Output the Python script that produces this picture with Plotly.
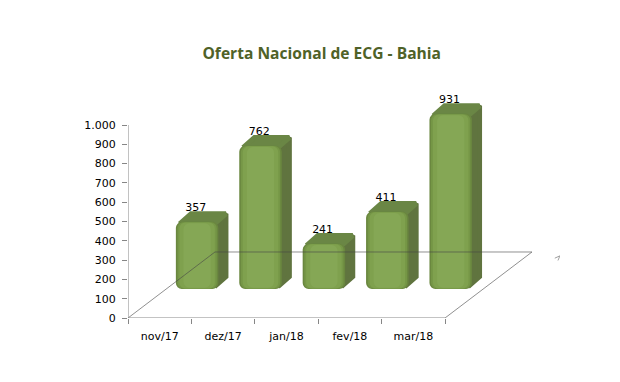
import plotly.graph_objects as go

categories = ["nov/17", "dez/17", "jan/18", "fev/18", "mar/18"]
values = [357, 762, 241, 411, 931]
y_ticks = [0, 100, 200, 300, 400, 500, 600, 700, 800, 900, 1000]
y_labels = ["0", "100", "200", "300", "400", "500", "600", "700", "800", "900", "1.000"]
title = "Oferta Nacional de ECG - Bahia"

# 3D projection of the pseudo-3D chart, in axis units
N = len(categories)
FLOOR_DX, FLOOR_DY = 1.372, 342      # depth vector of the floor
BAR_SHIFT = 0.59                     # bars stand mid-way along the floor depth
BAR_BASE = 150
H_SCALE = 0.975
BAR_W = 0.67
SIDE_DX, SIDE_DY = 0.18, 52          # depth vector of a bar

xs = [i + BAR_SHIFT for i in range(N)]
heights = [v * H_SCALE for v in values]
tops = [BAR_BASE + h for h in heights]
x0, x1 = -0.5, N - 0.5
fig = go.Figure()

SIDE = "#60743F"
TOP = "#6A8645"
for x, t in zip(xs, tops):
    r = x + BAR_W / 2 - 0.06
    l = x - BAR_W / 2 + 0.06
    # right side face
    fig.add_trace(go.Scatter(
        x=[r, r + SIDE_DX, r + SIDE_DX, r, r],
        y=[BAR_BASE + 12, BAR_BASE + 12 + SIDE_DY, t + SIDE_DY - 10, t - 10, BAR_BASE + 12],
        mode="lines", fill="toself", fillcolor=SIDE,
        line=dict(color=SIDE, width=5), hoverinfo="skip", showlegend=False))
    # top face
    fig.add_trace(go.Scatter(
        x=[l, l + SIDE_DX, r + SIDE_DX, r, l],
        y=[t - 10, t + SIDE_DY - 10, t + SIDE_DY - 10, t - 10, t - 10],
        mode="lines", fill="toself", fillcolor=TOP,
        line=dict(color=TOP, width=5), hoverinfo="skip", showlegend=False))

# front faces, on a second overlaying x axis so they sit over the side faces;
# layered bars imitate the bevel shading
for width, colour in [(BAR_W, "#6A873F"), (BAR_W - 0.05, "#769747"),
                      (BAR_W - 0.11, "#7FA14E"), (BAR_W - 0.24, "#85A755")]:
    inset = (BAR_W - width) * 30
    fig.add_trace(go.Bar(
        x=xs, y=[h - 2 * inset for h in heights], base=BAR_BASE + inset, width=width,
        xaxis="x2", yaxis="y2",
        marker=dict(color=colour, line=dict(width=0)), hoverinfo="skip", showlegend=False))

# floor and axes, drawn over the bars
FLOOR = "rgba(70,70,70,0.6)"
fig.add_trace(go.Scatter(
    x=[x0, x0 + FLOOR_DX, x1 + FLOOR_DX, x1],
    y=[0, FLOOR_DY, FLOOR_DY, 0], mode="lines", xaxis="x2", yaxis="y2",
    line=dict(color=FLOOR, width=1), hoverinfo="skip", showlegend=False))
fig.add_trace(go.Scatter(
    x=[x0, x0, None, x0, x1], y=[y_ticks[-1], 0, None, 0, 0], mode="lines",
    xaxis="x2", yaxis="y2",
    line=dict(color="#868686", width=1), cliponaxis=False,
    hoverinfo="skip", showlegend=False))
# small stray depth-axis mark at the far right
fig.add_trace(go.Scatter(
    x=[x1 + FLOOR_DX + 0.36, x1 + FLOOR_DX + 0.44, x1 + FLOOR_DX + 0.41],
    y=[310, 322, 298], mode="lines", xaxis="x2", yaxis="y2",
    line=dict(color="#A0A0A0", width=1), hoverinfo="skip", showlegend=False))

# data labels
fig.add_trace(go.Scatter(
    x=[x - 0.02 for x in xs], y=[t + 42 for t in tops], mode="text",
    text=[str(v) for v in values], textposition="top center", xaxis="x2", yaxis="y2",
    textfont=dict(family="DejaVu Sans", size=11, color="#000000"),
    cliponaxis=False, hoverinfo="skip", showlegend=False))

x_range = [x0, x0 + 432 / 63.4]
y_range = [0, 228 / 0.193]
fig.update_layout(
    width=620, height=382, autosize=False,
    paper_bgcolor="#ffffff", plot_bgcolor="rgba(0,0,0,0)",
    margin=dict(l=120, r=68, t=82, b=72),
    barmode="overlay", barcornerradius=6, showlegend=False,
    title=dict(text=title, x=0.506, xanchor="center", y=0.882, yanchor="middle",
               font=dict(family="Open Sans", size=15.6, color="#4F6228", weight="bold")),
    xaxis=dict(range=x_range, tickmode="array",
               tickvals=list(range(N)), ticktext=categories, ticks="",
               showgrid=False, zeroline=False, showline=False, ticklabelstandoff=10,
               tickfont=dict(family="DejaVu Sans", size=11, color="#000000"),
               minor=dict(tickmode="array", tickvals=[x0 + i for i in range(N + 1)],
                          ticks="outside", ticklen=5, tickcolor="#868686", showgrid=False)),
    yaxis=dict(range=y_range, tickmode="array", tickvals=y_ticks,
               ticktext=y_labels, ticks="outside", ticklen=5, tickcolor="#868686",
               showgrid=False, zeroline=False, showline=False, ticklabelstandoff=4,
               tickfont=dict(family="DejaVu Sans", size=11, color="#000000")),
    xaxis2=dict(range=x_range, overlaying="x", visible=False),
    yaxis2=dict(range=y_range, overlaying="y", visible=False),
)
fig.write_html("out.html")
